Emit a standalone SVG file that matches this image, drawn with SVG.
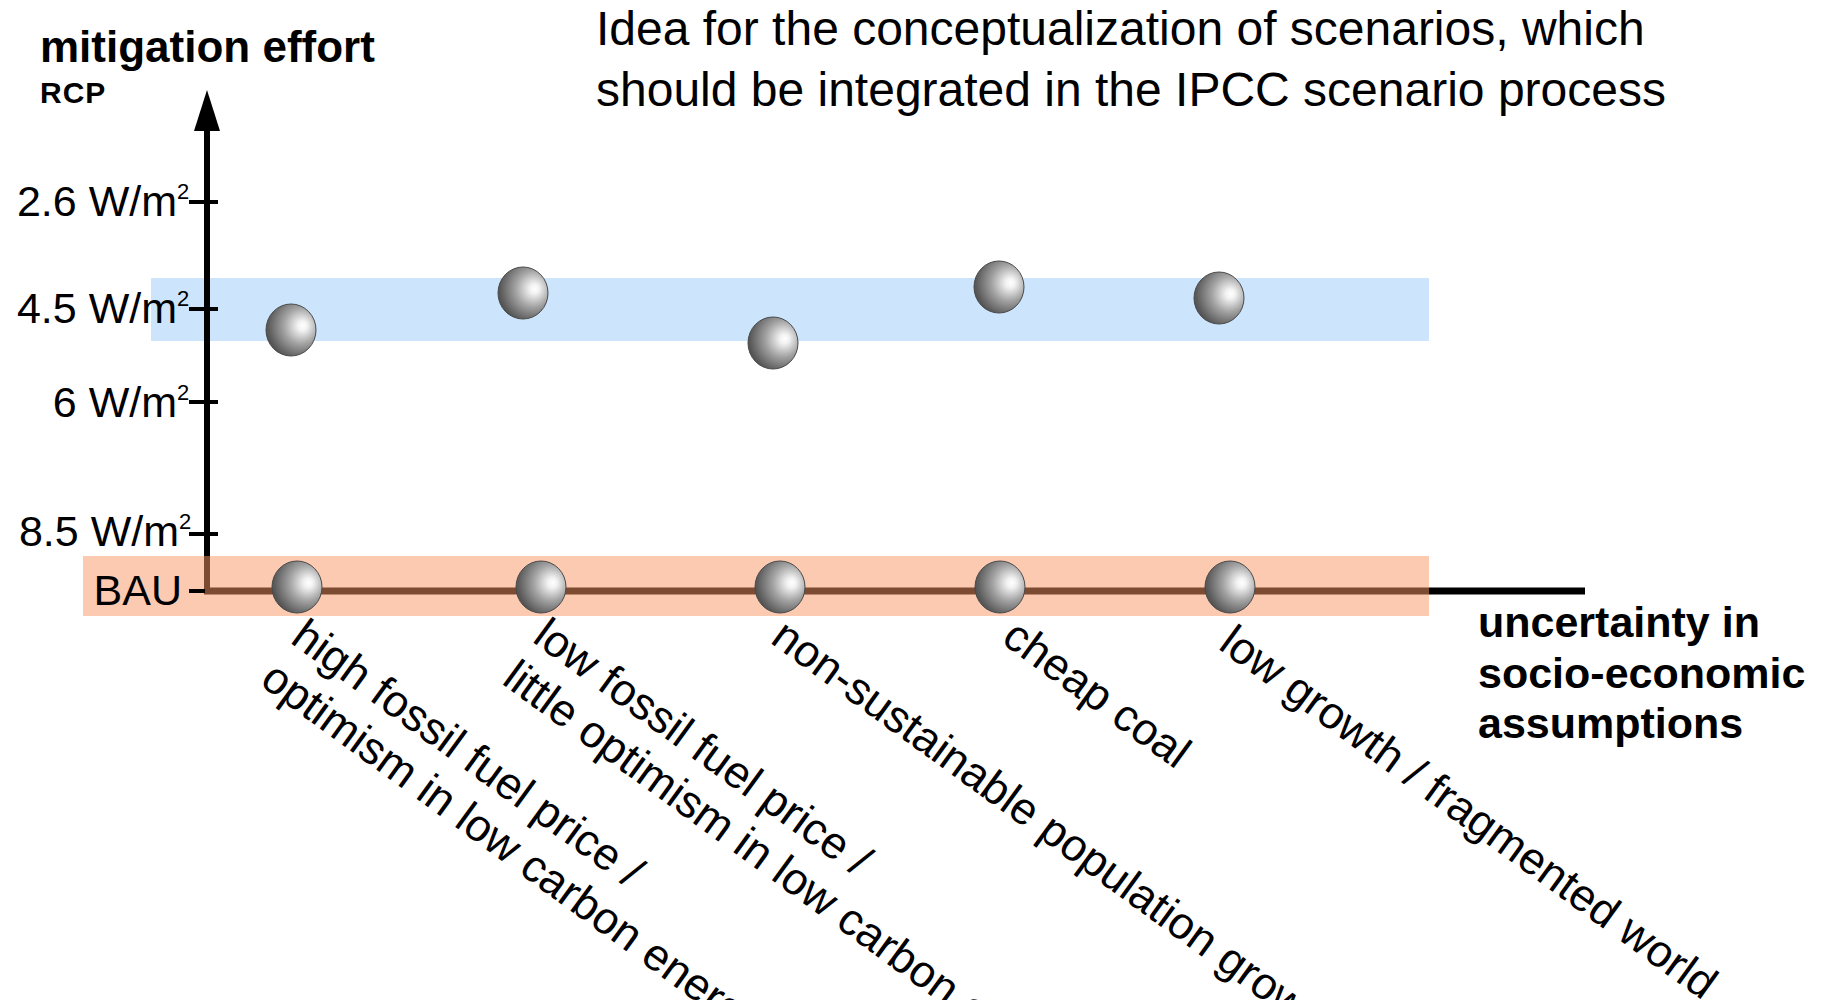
<svg xmlns="http://www.w3.org/2000/svg" width="1834" height="1000" viewBox="0 0 1834 1000">
<style>
text{font-family:"Liberation Sans",Arial,sans-serif;fill:#000}
.b{font-weight:bold}
.ax{font-size:43px}
.sup{font-size:22px}
.lab{font-size:45px}
.tick{stroke:#000;stroke-width:4}
.ball{fill:url(#sph);stroke:#4a4a4a;stroke-width:1}
</style>
<defs>
<radialGradient id="sph" cx="0.66" cy="0.42" r="0.78" fx="0.74" fy="0.42">
<stop offset="0" stop-color="#ffffff"/>
<stop offset="0.12" stop-color="#f2f2f2"/>
<stop offset="0.45" stop-color="#a2a2a2"/>
<stop offset="0.8" stop-color="#5c5c5c"/>
<stop offset="1" stop-color="#3c3c3c"/>
</radialGradient>
</defs>
<rect width="1834" height="1000" fill="#fff"/>
<g id="title">
<text x="596" y="45" style="font-size:48px">Idea for the conceptualization of scenarios, which</text>
<text x="596" y="106" style="font-size:48px">should be integrated in the IPCC scenario process</text>
</g>
<g id="band-45"><rect x="151" y="278" width="1278" height="63" fill="#CCE5FC"/></g>
<g id="connectors">
<line x1="207" y1="594" x2="207" y2="126" stroke="#000" stroke-width="6"/>
<polygon points="207,90 194,131 220,131" fill="#000"/>
<line x1="204" y1="591" x2="1585" y2="591" stroke="#000" stroke-width="7"/>
</g>
<g id="band-bau"><rect x="83" y="556" width="1346" height="60" fill="#FA9464" fill-opacity="0.5"/></g>
<g id="y-axis-title">
<text class="b" x="40" y="62" style="font-size:44px">mitigation effort</text>
<text class="b" x="40" y="103" style="font-size:30px;letter-spacing:1px">RCP</text>
</g>
<g id="ticks">
<line class="tick" x1="189" y1="202" x2="218" y2="202"/>
<line class="tick" x1="189" y1="309" x2="218" y2="309"/>
<line class="tick" x1="189" y1="402" x2="218" y2="402"/>
<line class="tick" x1="189" y1="534" x2="218" y2="534"/>
<line class="tick" x1="189" y1="591" x2="205" y2="591"/>
</g>
<g id="tick-26"><text class="ax" x="177" y="216" text-anchor="end">2.6 W/m</text><text class="sup" x="177" y="199">2</text></g>
<g id="tick-45"><text class="ax" x="177" y="323" text-anchor="end">4.5 W/m</text><text class="sup" x="177" y="306">2</text></g>
<g id="tick-6"><text class="ax" x="177" y="417" text-anchor="end">6 W/m</text><text class="sup" x="177" y="400">2</text></g>
<g id="tick-85"><text class="ax" x="179" y="546" text-anchor="end">8.5 W/m</text><text class="sup" x="179" y="529">2</text></g>
<g id="tick-bau"><text class="ax" x="182" y="605" text-anchor="end">BAU</text></g>
<g id="x-axis-title">
<text class="b" x="1478" y="637" style="font-size:43px">uncertainty in</text>
<text class="b" x="1478" y="688" style="font-size:43px">socio-economic</text>
<text class="b" x="1478" y="738" style="font-size:43px">assumptions</text>
</g>
<g id="ball-1-mit"><ellipse class="ball" cx="291" cy="330" rx="25" ry="26"/></g>
<g id="ball-2-mit"><ellipse class="ball" cx="523" cy="293" rx="25" ry="26"/></g>
<g id="ball-3-mit"><ellipse class="ball" cx="773" cy="343" rx="25" ry="26"/></g>
<g id="ball-4-mit"><ellipse class="ball" cx="999" cy="287" rx="25" ry="26"/></g>
<g id="ball-5-mit"><ellipse class="ball" cx="1219" cy="298" rx="25" ry="26"/></g>
<g id="ball-1-bau"><ellipse class="ball" cx="297" cy="587" rx="25" ry="26"/></g>
<g id="ball-2-bau"><ellipse class="ball" cx="541" cy="587" rx="25" ry="26"/></g>
<g id="ball-3-bau"><ellipse class="ball" cx="780" cy="587" rx="25" ry="26"/></g>
<g id="ball-4-bau"><ellipse class="ball" cx="1000" cy="587" rx="25" ry="26"/></g>
<g id="ball-5-bau"><ellipse class="ball" cx="1230" cy="587" rx="25" ry="26"/></g>
<g id="label-1"><text class="lab" transform="translate(289,642) rotate(36)">high fossil fuel price /<tspan x="0" dy="52">optimism in low carbon energy</tspan></text></g>
<g id="label-2"><text class="lab" transform="translate(531,641) rotate(36)">low fossil fuel price /<tspan x="0" dy="52">little optimism in low carbon energy</tspan></text></g>
<g id="label-3"><text class="lab" transform="translate(769,642) rotate(36)">non-sustainable population growth</text></g>
<g id="label-4"><text class="lab" transform="translate(1000,642) rotate(36)">cheap coal</text></g>
<g id="label-5"><text class="lab" transform="translate(1217,648) rotate(36)">low growth / fragmented world</text></g>
</svg>
